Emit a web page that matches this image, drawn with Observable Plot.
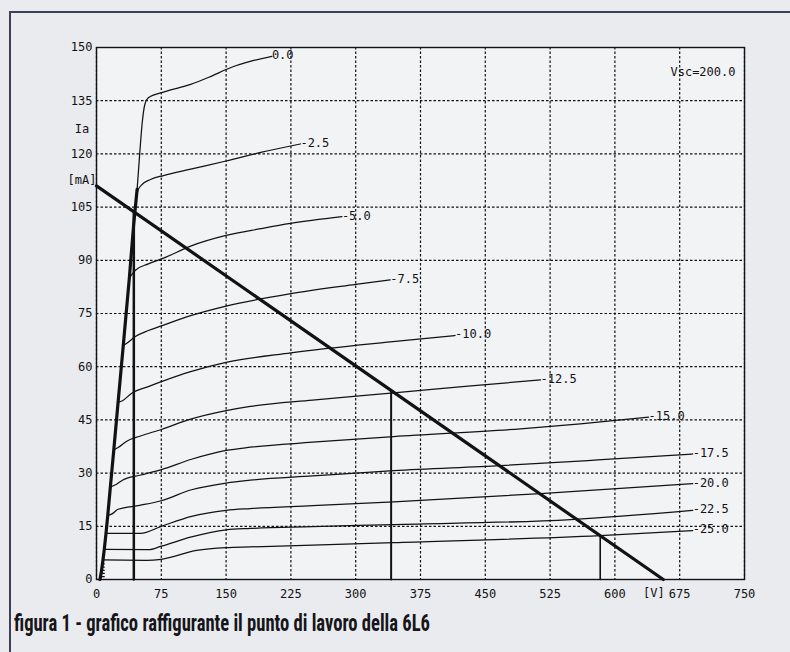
<!DOCTYPE html>
<html>
<head>
<meta charset="utf-8">
<script src="https://cdn.jsdelivr.net/npm/d3@7"></script>
<script src="https://cdn.jsdelivr.net/npm/@observablehq/plot@0.6"></script>
<style>
  html, body { margin: 0; padding: 0; background: #e7e9ed; }
  #wrap { position: relative; width: 790px; height: 652px; overflow: hidden; background: #e9ebee; }
  #chart { position: absolute; left: 0; top: 0; }
  #bl { position: absolute; left: 9px; top: 11px; width: 2px; height: 641px; background: #3b4257; }
  #bt { position: absolute; left: 9px; top: 11px; width: 781px; height: 2px; background: #3b4257; }
  #cap { position: absolute; left: 14px; top: 609px; white-space: nowrap; transform-origin: left top;
         font-family: "Liberation Sans Narrow", "Roboto", "Liberation Sans", sans-serif; font-stretch: condensed;
         font-weight: bold; font-size: 24px; color: #15151a; }
</style>
</head>
<body>
<div id="wrap">
  <div id="bl"></div><div id="bt"></div>
  <div id="chart"></div>
  <div id="cap">figura 1 - grafico raffigurante il punto di lavoro della 6L6</div>
</div>
<script>
// ---- tick values ----
const xTicks = [0, 75, 150, 225, 300, 375, 450, 525, 600, 675, 750];
const yTicks = [0, 15, 30, 45, 60, 75, 90, 105, 120, 135, 150];

// ---- grid-voltage labels (Vg1) ----
const gridLabels = ["0.0", "-2.5", "-5.0", "-7.5", "-10.0", "-12.5", "-15.0", "-17.5", "-20.0", "-22.5", "-25.0"];

// ---- plate curves: [Va (V), Ia (mA)] ----
const g0    = [[43,100],[47,110],[50,120],[53,129],[56,134],[60,135.8],[77.5,137.4],[109,139.6],[130,141.6],[155,144.3],[180,146.2],[203,147.5]];
const g2_5  = [[43,100],[46,107],[48,109.8],[52,111.2],[62.5,112.8],[77.5,113.9],[109,115.7],[150,118],[190,120.4],[236,122.8]];
const g5    = [[38,85],[41,86],[45,87.2],[60,89],[77.5,90.6],[109,94],[150,97],[190,98.9],[224.5,100.4],[284,102.3]];
const g7_5  = [[31,66],[35,66.6],[45,68.5],[60,70.2],[76,71.6],[109,74.4],[150,77.1],[225,80.6],[300,83.2],[340,84.5]];
const g10   = [[25,50],[30,50.4],[40,52.4],[60,54.4],[77.5,56],[109,58.6],[150,61.2],[225,63.9],[340,67],[415,68.8]];
const g12_5 = [[20,36.5],[25,37.2],[35,39],[50,40.4],[75,42.3],[109,45.2],[150,47.6],[178,48.8],[250,50.6],[344,52.6],[430,54.5],[514,56.3]];
const g15   = [[16,26],[22,26.7],[30,28],[50,29.4],[75,31],[110,33.9],[150,36.4],[178,37.3],[250,38.7],[344,40.3],[491,42.5],[560,43.9],[639,45.8]];
const g17_5 = [[13,18],[18,18.5],[25,19.8],[50,20.9],[75,22.2],[110,25.3],[150,27.2],[178,28],[250,29.2],[344,30.7],[468,32.1],[580,33.7],[690,35.4]];
const g20   = [[11,13],[51,13],[75,15],[110,17.8],[150,19.5],[178,20],[250,20.8],[344,21.9],[514,24.2],[690,27]];
const g22_5 = [[9,8.5],[60,8.4],[75,9.4],[110,12],[150,14],[178,14.4],[250,14.9],[344,15.5],[549,16.9],[690,19.5]];
const g25   = [[7.5,5.5],[58,5.4],[75,5.7],[116,8.2],[150,9],[178,9.2],[250,9.7],[344,10.4],[583,12.4],[690,13.8]];

// steep (knee) region where the curves bunch together
const kneeLocus = [[4,0],[5.5,2],[7.5,5.5],[9,8.5],[11,13],[13,18],[16,26],[20,36.5],[25,50],[31,66],[38,85],[43,100],[47,110]];
// cut-off curves near the origin (short steps)
const cutoffStart = [6.7, 6.2, 5.8, 5.4, 4.6];
const cutoffIa    = [4.4, 3.5, 2.6, 1.7, 0.8];
const cutoffEnd   = 9;

// load line and operating points
const loadLine = [[0,111],[656,0]];
const opV  = [43.2, 341, 583];
const opIa = [103.7, 53.3, 12.4];
const opW  = [2.5, 2, 1.6];

// text labels
const axisLabelsY = [{t:"Ia", y:127}, {t:"[mA]", y:112.5}];
const unitX = [{t:"[V]", x:645}];
const vscLabel = ["Vsc=200.0"];

const curves = [g0, g2_5, g5, g7_5, g10, g12_5, g15, g17_5, g20, g22_5, g25];
const curveRows = curves.flatMap((c, i) => c.map(([v, ia]) => ({v, ia, g: gridLabels[i]})));
const curveEnds = curves.map((c, i) => ({v: c[c.length-1][0], ia: c[c.length-1][1], t: gridLabels[i]}));
const cutoffRows = cutoffIa.flatMap((ia, i) => [{v: cutoffStart[i], ia, k: i}, {v: cutoffEnd, ia, k: i}]);
const opRows = opV.flatMap((v, i) => [{v, ia: 0, k: i}, {v, ia: opIa[i], k: i}]);

const ink = "#121214";
const chart = Plot.plot({
  width: 790, height: 610,
  marginLeft: 96, marginRight: 46, marginTop: 47, marginBottom: 31,
  style: {fontFamily: "'DejaVu Sans Mono', monospace", fontSize: "12px", color: ink, background: "transparent", overflow: "visible"},
  x: {domain: [0, 750], label: null},
  y: {domain: [0, 150], label: null},
  marks: [
    Plot.frame({fill: "#f2f3f5", stroke: null}),
    Plot.gridX(xTicks, {stroke: ink, strokeOpacity: 1, strokeWidth: 1.2, strokeDasharray: "2.5,2"}),
    Plot.gridY(yTicks, {stroke: ink, strokeOpacity: 1, strokeWidth: 1.2, strokeDasharray: "2.5,2"}),
    Plot.axisX(xTicks, {tickSize: 0, tickPadding: 10, fill: ink}),
    Plot.axisY(yTicks, {tickSize: 0, tickPadding: 4, fill: ink}),
    Plot.frame({stroke: ink, strokeWidth: 1.4}),
    Plot.line(kneeLocus, {x: d => d[0], y: d => d[1], stroke: ink, strokeWidth: 3.2}),
    Plot.line(curveRows, {x: "v", y: "ia", z: "g", stroke: ink, strokeWidth: 1.25, curve: "monotone-x"}),
    Plot.line(cutoffRows, {x: "v", y: "ia", z: "k", stroke: ink, strokeWidth: 1.2}),
    Plot.line(loadLine, {x: d => d[0], y: d => d[1], stroke: ink, strokeWidth: 3.2}),
    ...opV.map((v, i) => Plot.line(opRows.filter(r => r.k === i), {x: "v", y: "ia", stroke: ink, strokeWidth: opW[i]})),
    Plot.text(curveEnds, {x: "v", y: "ia", text: "t", textAnchor: "start", lineAnchor: "middle", dx: 0, dy: -1, fill: ink}),
    Plot.text(axisLabelsY, {y: "y", text: "t", frameAnchor: "left", dx: -14.5, textAnchor: "middle", lineAnchor: "middle", fill: ink}),
    Plot.text(unitX, {x: "x", text: "t", frameAnchor: "bottom", dy: 14, textAnchor: "middle", lineAnchor: "middle", fill: ink}),
    Plot.text(vscLabel, {text: d => d, frameAnchor: "top-right", dx: -9, dy: 25, textAnchor: "end", lineAnchor: "middle", fill: ink})
  ]
});
document.getElementById("chart").appendChild(chart);

// fit caption width to the reference span
const cap = document.getElementById("cap");
const w = cap.getBoundingClientRect().width;
cap.style.transform = `scaleX(${416 / w})`;
</script>
</body>
</html>
